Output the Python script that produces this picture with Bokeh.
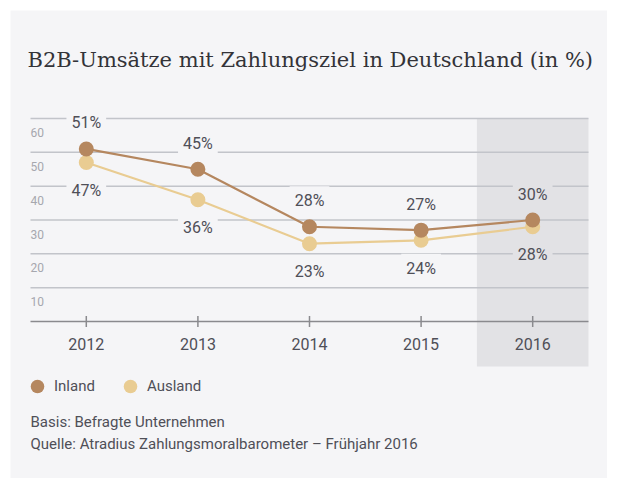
import math
from bokeh.plotting import figure
from bokeh.models import ColumnDataSource, Label, Legend, LegendItem, Range1d
from bokeh.core.properties import value
from bokeh.embed import file_html
from bokeh.resources import INLINE

# ---- data ----
years = [2012, 2013, 2014, 2015, 2016]
year_labels = ["2012", "2013", "2014", "2015", "2016"]
inland = [51, 45, 28, 27, 30]
ausland = [47, 36, 23, 24, 28]
y_ticks = [10, 20, 30, 40, 50, 60]
y_tick_labels = ["10", "20", "30", "40", "50", "60"]
highlight_year = 2016
title_text = "B2B-Umsätze mit Zahlungsziel in Deutschland (in %)"
series_names = ["Inland", "Ausland"]
footer_lines = ["Basis: Befragte Unternehmen",
                "Quelle: Atradius Zahlungsmoralbarometer – Frühjahr 2016"]

# ---- style ----
W, H = 597, 468
PANEL = "#f5f5f7"
SHADE = "#e2e2e5"
GRID = "#c2c4ca"
AXIS = "#8a8a8e"
C_IN = "#b5875f"
C_AUS = "#e9cc92"
TXT = "#4f4f57"
SANS_S = "Roboto"
SERIF_S = "DejaVu Serif"
SANS = value(SANS_S)

p = figure(width=W, height=H, output_backend="svg", toolbar_location=None,
           x_range=Range1d(2011.3208, 2016.6703), y_range=Range1d(-46.40, 91.92),
           x_axis_location=None, y_axis_location=None,
           min_border=0, background_fill_color=PANEL, border_fill_color=PANEL,
           outline_line_color=None, margin=(10, 0, 0, 10))
p.xgrid.visible = False
p.ygrid.visible = False

x_lo = years[0] - 0.5
x_hi = years[-1] + 0.5

# highlighted year band
p.quad(left=[highlight_year - 0.5], right=[highlight_year + 0.5],
       top=[max(y_ticks)], bottom=[-13.3], fill_color=SHADE, line_color=None)

# gridlines
p.segment(x0=[x_lo] * len(y_ticks), x1=[x_hi] * len(y_ticks), y0=y_ticks, y1=y_ticks,
          line_color=GRID, line_width=1.5)
# baseline axis
p.segment(x0=[x_lo], x1=[x_hi], y0=[0], y1=[0], line_color=AXIS, line_width=1.5)
# ticks
p.scatter(x=years, y=[0] * len(years), marker="dash", angle=math.pi / 2, size=11,
          line_color=AXIS, line_width=1.5)
# year labels
p.text(x=years, y=[0] * len(years), text=year_labels, y_offset=22,
       text_align="center", text_baseline="middle", text_font=SANS,
       text_font_size="16px", text_color=TXT)
# y labels
p.text(x=[x_lo] * len(y_ticks), y=y_ticks, text=y_tick_labels, y_offset=14,
       text_align="left", text_baseline="middle", text_font=SANS,
       text_font_size="12px", text_color="#a6a7ae")

# series
r_aus_line = p.line(years, ausland, line_color=C_AUS, line_width=2.2)
r_aus = p.scatter(years, ausland, size=15, fill_color=C_AUS, line_color=None)
r_in_line = p.line(years, inland, line_color=C_IN, line_width=2.2)
r_in = p.scatter(years, inland, size=15, fill_color=C_IN, line_color=None)

bg = [SHADE if y == highlight_year else PANEL for y in years]
src_in = ColumnDataSource(dict(x=years, y=inland, t=[f"{v}%" for v in inland], bg=bg))
src_aus = ColumnDataSource(dict(x=years, y=ausland, t=[f"{v}%" for v in ausland], bg=bg))
p.text(x="x", y="y", text="t", source=src_in, y_offset=-26, text_align="center",
       text_baseline="middle", text_font=SANS, text_font_size="16px", text_color=TXT,
       background_fill_color="bg", padding=5)
p.text(x="x", y="y", text="t", source=src_aus, y_offset=28, text_align="center",
       text_baseline="middle", text_font=SANS, text_font_size="16px", text_color=TXT,
       background_fill_color="bg", padding=5)

# title
p.add_layout(Label(x=17, y=419, x_units="screen", y_units="screen", text=title_text,
                   text_font=SERIF_S, text_font_size="21px", text_color="#333338",
                   text_baseline="alphabetic"))
# footer
for i, line in enumerate(footer_lines):
    p.add_layout(Label(x=20, y=57 - 22 * i, x_units="screen", y_units="screen", text=line,
                       text_font=SANS_S, text_font_size="15px", text_color=TXT,
                       text_baseline="middle"))

# legend
legend = Legend(items=[LegendItem(label=series_names[0], renderers=[r_in]),
                       LegendItem(label=series_names[1], renderers=[r_aus])],
                location=(10, 75), orientation="horizontal",
                glyph_width=34, glyph_height=34, label_standoff=0, spacing=18,
                padding=0, margin=0, border_line_color=None, background_fill_alpha=0,
                label_text_font=SANS_S, label_text_font_size="15px", label_text_color=TXT)
p.add_layout(legend)

open("out.html", "w").write(file_html(p, INLINE))
